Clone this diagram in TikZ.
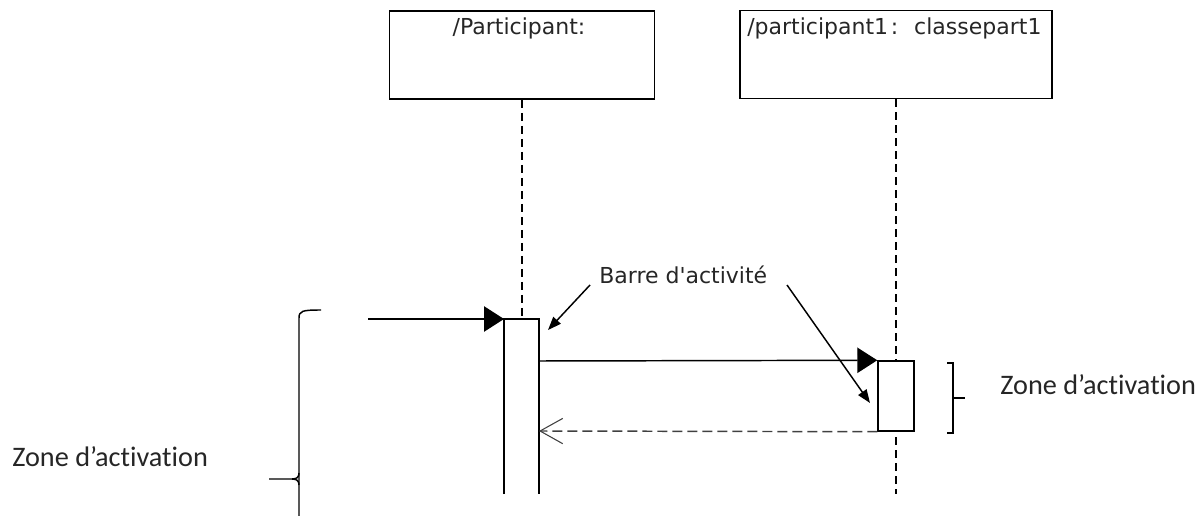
\documentclass[tikz,border=0pt]{standalone}
\usepackage{fontspec}
\setmainfont{Carlito}[Ligatures=NoCommon]
\newfontfamily\uifont{DejaVu Sans}
\usetikzlibrary{arrows.meta}

\tikzset{
  lifebox/.style={draw, line width=1.2pt, minimum width=#1, minimum height=66pt, inner sep=0pt},
  lifeline/.style={line width=0.9pt, dash pattern=on 6pt off 3.75pt},
  actbar/.style={draw, fill=white, line width=1.1pt},
  msg/.style={line width=1.1pt, -{Triangle[length=15pt, width=19pt]}},
  reply/.style={line width=1.1pt, draw=black!75, dash pattern=on 7.5pt off 3.75pt,
                -{Straight Barb[length=17pt, width=19pt, line width=0.8pt]}},
  note/.style={line width=1.1pt, -{Triangle[length=10pt, width=7.5pt]}},
  uitext/.style={font=\uifont\fontsize{16.5pt}{20pt}\selectfont, inner sep=0pt, text=black!85},
  zonetext/.style={font=\fontsize{21.2pt}{25pt}\selectfont, inner sep=0pt, text=black!85},
  brace/.style={line width=1.1pt}
}

\begin{document}
\begin{tikzpicture}[x=0.75pt, y=-0.75pt]
  \useasboundingbox (0,0) rectangle (1203,516);

  % participants
  \node[lifebox=198.75pt] (p1) at (522,55) {};
  \node[lifebox=234pt] (p2) at (896,54.5) {};
  \node[uitext, anchor=base] (p1lab) at (519,35) {/Participant:};
  \node[uitext, anchor=base west] (p2lab) at (747,35) {/participant1\kern2pt:\kern12pt classepart1};

  % activation bar of the first participant (open at the bottom)
  \coordinate (b1tl) at (504,319);
  \coordinate (b1tr) at (539,319);
  \coordinate (b1bl) at (504,494);
  \coordinate (b1br) at (539,494);
  \coordinate (b1msg) at (539,361);
  \coordinate (b1ret) at (539,431);

  % lifelines
  \draw[lifeline] (p1.south) -- (522,319);
  \draw[lifeline] (p2.south) -- (896,494);

  \draw[line width=1.1pt] (b1bl) -- (b1tl) -- (b1tr) -- (b1br);

  % activation bar of the second participant
  \node[actbar, minimum width=27pt, minimum height=52.5pt, inner sep=0pt] (bar2) at (896,396) {};

  % messages
  \coordinate (src) at (368,319);
  \draw[msg] (src) -- (b1tl);
  \draw[msg] (b1msg) -- (bar2.north west);
  \draw[reply] (bar2.south west) -- (b1ret);

  % annotation
  \node[uitext, anchor=base west] (barre) at (599,284) {Barre d'activité};
  \coordinate (n1s) at (590,285);
  \coordinate (n1e) at (548,330);
  \coordinate (n2s) at (787,285);
  \coordinate (n2e) at (870,403);
  \draw[note] (n1s) -- (n1e);
  \draw[note] (n2s) -- (n2e);

  % right brace
  \coordinate (rb1) at (947,363);
  \coordinate (rb2) at (947,433);
  \coordinate (rbm) at (965,398);
  \draw[brace] (rb1) -- (953,363) -- (953,433) -- (rb2);
  \draw[brace] (953,398) -- (rbm);
  \node[zonetext, anchor=base west] (zr) at (1000,395) {Zone d’activation};

  % left brace
  \coordinate (lb1) at (321,310);
  \coordinate (lbm) at (269,479);
  \draw[brace] (lb1) .. controls (302,310) and (299,311) .. (299,318) -- (299,520);
  \draw[brace] (lbm) -- (292,479) .. controls (297,479) and (299,477) .. (299,473);
  \draw[brace] (292,479) .. controls (297,479) and (299,481) .. (299,485);
  \node[zonetext, anchor=base west] (zl) at (12,466) {Zone d’activation};
\end{tikzpicture}
\end{document}
